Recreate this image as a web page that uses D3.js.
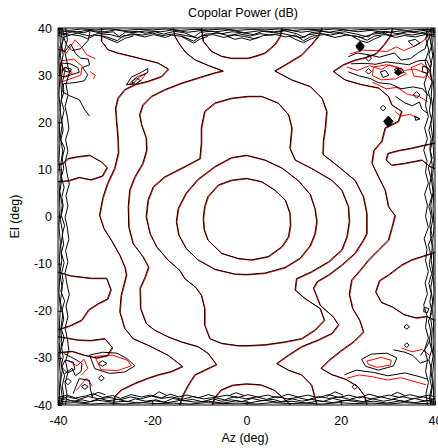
<!DOCTYPE html>
<html><head><meta charset="utf-8">
<script src="https://cdn.jsdelivr.net/npm/d3@7"></script>
<style>
body{margin:0;background:#fff}
text{font-family:"Liberation Sans",Arial,sans-serif;fill:#000}
</style></head>
<body><svg id="chart" width="438" height="448"></svg>
<script>
const title = "Copolar Power (dB)";
const xLabel = "Az (deg)";
const yLabel = "El (deg)";
const xTicks = [-40, -20, 0, 20, 40];
const yTicks = [-40, -30, -20, -10, 0, 10, 20, 30, 40];

// contour lines, each point = [az, el] in degrees
const c1 = [[-9.2,-0.5],[-8.9,2.1],[-8.2,4.2],[-6.0,6.7],[-3.2,7.7],[0,8.1],[3.2,7.4],[6.0,5.6],[8.2,3.5],[9.2,0.7],[9.3,-1.8],[8.9,-4.3],[7.5,-6.4],[4.6,-8.5],[1.1,-9.2],[-1.8,-8.9],[-5.3,-7.8],[-8.2,-5.0],[-9.0,-2.8]];
const c2 = [[0,13],[3.9,12],[7.5,10.3],[11,7.6],[13.5,4.7],[14.5,1.7],[14.9,-1.1],[14.5,-3.7],[13.5,-6.2],[11.4,-8.8],[8.2,-10.8],[3.9,-12],[0,-12.3],[-2.5,-12.2],[-6.7,-11.2],[-10.3,-9.2],[-12.8,-6.8],[-14.4,-3.9],[-14.9,-1.1],[-14.5,1.7],[-12.8,5],[-10.3,7.9],[-6.7,10.6],[-3.2,12.5]];
const c3 = [[0.3,25.5],[3.2,25.5],[6.7,24.1],[8.9,21.6],[9.6,18.8],[9.2,14.5],[10.3,12],[13.8,10.2],[18.1,7.7],[20.2,5.6],[21.6,2.1],[21.8,-1.1],[21.3,-4.3],[20.2,-7.1],[17.4,-9.6],[13.8,-11.7],[10.6,-13.2],[10.3,-15.6],[12.4,-17.4],[15.6,-19.5],[16.5,-22],[14.5,-24.1],[11.7,-25.9],[8.2,-26.6],[4,-27.2],[0.3,-27.4],[-1.8,-27.4],[-5.3,-26.9],[-7.8,-25.9],[-8.9,-23],[-8.9,-19.5],[-9.6,-16.7],[-10.8,-15],[-13.1,-13.2],[-14.2,-11.4],[-16.7,-9.2],[-19.1,-6.4],[-20.5,-3.6],[-21.3,0],[-20.9,3.5],[-19.8,6.3],[-17.4,8.4],[-13.1,10.6],[-9.9,12.3],[-9.6,15.5],[-9.6,18.8],[-8.9,22.3],[-6.7,24.1],[-3.2,25.1]];
const c4Left = [[-15.6,40],[-15.2,38.2],[-14.2,36.5],[-12.8,34.7],[-11,33.3],[-8.2,32.1],[-5,30.9],[-6.7,30.5],[-10.3,29.4],[-13.8,28.3],[-17.4,26.9],[-20.2,25.5],[-22,23.7],[-22.7,21.6],[-22.3,19.5],[-21.3,16.7],[-21.2,14.1],[-22,11.3],[-23.7,8.4],[-24.8,5.6],[-25.1,2.1],[-25,-2.2],[-24.1,-5.7],[-22,-8.5],[-20.8,-10.7],[-21.5,-12.8],[-22.6,-15.2],[-22.5,-19.5],[-21.3,-22.7],[-19.5,-24.1],[-16.7,-25.5],[-13.8,-26.6],[-10.3,-27.6],[-8.2,-29],[-6.4,-31.4],[-8.9,-32.6],[-11,-33.6],[-12.4,-35.8],[-13.5,-37.9],[-14.2,-40]];
const c4Right = [[16,40],[15.2,38.2],[13.8,36.5],[11.7,34.3],[8.9,32.6],[6,30.9],[9.6,29],[13.5,27.6],[16,25.1],[17,22.3],[16.7,18.8],[16.3,16],[16.2,13.2],[19.5,10.6],[23,7.7],[24.8,4.2],[25.5,0.7],[25.5,-3.6],[24.8,-5],[23,-7.8],[20.2,-10.3],[17.4,-12.4],[15,-13.8],[14.2,-15.2],[15.6,-18.8],[18.4,-21.3],[19.5,-23],[18.1,-24.8],[15.2,-26.2],[11.7,-27.6],[8.9,-29.4],[6.4,-31.2],[8.9,-32.6],[11.7,-33.6],[13.8,-35.8],[14.9,-40]];
const capTop = [[-9.6,40],[-9.2,37.2],[-7.5,35.1],[-5.3,34],[-3.2,33.6],[0.3,33.6],[1.8,34],[3.9,34.7],[6,36.5],[7.1,38.2],[7.5,40]];
const capBottom = [[-7.3,-40],[-6.8,-38.5],[-5.4,-36.8],[-3,-35.8],[0,-35.5],[3,-35.7],[5.8,-36.8],[7.8,-38.5],[9.3,-40]];
const c5Left = [[-30.8,40],[-30.8,37.2],[-29.4,35.4],[-27.3,34.7],[-24.4,34],[-21.6,33.3],[-18.8,32.6],[-16.6,31.3],[-18.1,29.7],[-20.9,28.7],[-23.7,28],[-25.9,26.9],[-27.3,25.1],[-27.8,23],[-27.6,20.2],[-27.3,16.7],[-27.2,13.5],[-28,10.2],[-29.5,7],[-30.5,4],[-31.2,0.3],[-30.3,-2.5],[-28.6,-5.2],[-26.9,-8.2],[-25.8,-10.8],[-25.5,-12.4],[-26.6,-16.7],[-26.9,-20.2],[-25.9,-23.7],[-24.1,-25.9],[-20.9,-27.3],[-16.7,-29.4],[-13.6,-31.8],[-16,-32.9],[-18.8,-33.6],[-20.9,-34.3],[-23.7,-35.4],[-26.6,-36.8],[-28,-38.2],[-28.3,-40]];
const c5Right = [[31,40],[30.5,38.3],[29.2,36.5],[27.5,34.6],[25.5,33.8],[23,33.2],[20.5,32.2],[18.4,30.8],[20.9,29],[24.4,28],[28,27.3],[30.1,25.5],[30.8,23.7],[32.9,22.3],[32.2,20.2],[29.4,18.8],[28.7,16],[27,14],[26.6,11.3],[28,8.4],[29.4,5.6],[30.1,2.1],[31.5,0.2],[30.8,-2.5],[30.1,-5],[28,-7.1],[25.9,-9.2],[24.1,-11.4],[22.3,-13.5],[21.8,-16.5],[22.5,-19.5],[24,-22],[24.8,-24.5],[22.8,-26.5],[20,-28.5],[17.5,-30.5],[15.8,-32.2],[18,-33.5],[21,-34.5],[23.5,-36],[25,-38],[25.5,-40]];
const c6LeftTop = [[-40,11],[-38.9,11.3],[-37.9,12.3],[-35.8,12.7],[-33.3,13],[-30.8,11.6],[-29.6,10.4],[-30.6,8.6],[-33,7.8],[-35.5,8.3],[-37.8,7.6],[-40,7.4]];
const c6LeftBottom = [[-40,-11.8],[-37.2,-12.6],[-32.9,-13.1],[-29.7,-13.1],[-28.8,-15.5],[-29.5,-17.5],[-31.5,-18.5],[-33.5,-19.8],[-35,-22],[-37.5,-23.2],[-40,-24]];
const c6RightTop = [[40,10.2],[38.9,10.6],[37.2,12],[33.6,11.3],[30.8,10.9],[29.6,12],[30,13.4],[32.2,14],[35,14.5],[37.5,15.1],[40,15.6]];
const c6RightBottom = [[40,-7.6],[39.3,-7.8],[37.2,-8.5],[35,-9.2],[32.9,-10.3],[30.1,-12.4],[28.2,-13.6],[27.4,-16],[28.6,-18.2],[31,-19.2],[33.4,-20.8],[36,-21.5],[38.2,-21.2],[40,-22]];
const c6BottomLeftEdge = [[-40,-25.5],[-38,-25.8],[-35.8,-26.2],[-33,-26.3],[-30.1,-25.9],[-28.5,-27.8],[-29.5,-29.5],[-31.8,-30],[-34.5,-29.4],[-37,-28.6],[-40,-28.9]];

// small closed contours of the noisy corners
const loopsBlack = [
  [[-25.5,27.9],[-24.4,29.6],[-22.3,30.6],[-21,31.4],[-20.9,30.6],[-22.6,29.7],[-24.1,28.2]],
  [[-24.4,28.6],[-23.3,29.4],[-22.5,28.8],[-23.6,28]],
  [[-39.5,32.6],[-37.4,32.4],[-35.8,31.6],[-35.5,30.6],[-36.8,30.2],[-38.5,29.6],[-39.5,29.8]],
  [[-38.6,31.6],[-37.2,31.3],[-37.4,30.6],[-38.5,30.8]],
  [[24.1,36.6],[24.9,35.8],[24.1,35],[23.3,35.8]],
  [[30.1,20.6],[30.9,19.8],[30.1,19],[29.3,19.8]],
  [[25.9,34.3],[26.5,33.6],[25.9,32.9],[25.3,33.6]],
  [[25.9,31.4],[26.5,30.8],[25.9,30.2],[25.3,30.8]],
  [[28.4,30.7],[29.5,31],[30.2,30],[29,29.5]],
  [[31.4,31.3],[32.9,31.5],[33.4,30.6],[32,30.1]],
  [[36.1,26.5],[36.8,25.8],[36.1,25.1],[35.4,25.8]],
  [[29,23.6],[29.6,23],[29,22.4],[28.4,23]],
  [[37.4,31.9],[38.6,31.5],[38.4,30.4],[37.3,30.7]],
  [[34.3,37.2],[35.8,37.6],[36.8,36.8],[35.5,36.1]],
  [[35.7,21.3],[36.8,20.7],[35.9,20.4]],
  [[-33.3,-29.4],[-30.5,-28.8],[-27.5,-29],[-25.3,-30.2],[-23.7,-31.7],[-25.8,-33],[-29,-33.3],[-32.2,-32.3]],
  [[-30.6,-30.6],[-29.6,-31.2],[-30.6,-31.8],[-31.4,-31.2]],
  [[-37.9,-34.4],[-37.2,-35],[-37.9,-35.7],[-38.6,-35]],
  [[-30.8,-33.7],[-30.2,-34.3],[-30.8,-34.9],[-31.4,-34.3]],
  [[-34.3,-35.6],[-33.6,-36.1],[-34.3,-36.7],[-35,-36.1]],
  [[-38.5,-30.5],[-36.8,-30.9],[-36.4,-32.4],[-38,-33.2],[-39.2,-32]],
  [[24.4,-30.3],[26.5,-29.2],[29.8,-29],[31.9,-30],[31.2,-31.7],[28,-32.6],[25.3,-31.8]],
  [[23,-35.6],[23.6,-36.1],[23,-36.7],[22.4,-36.1]],
  [[34,-26.8],[34.5,-27.3],[34,-27.8],[33.5,-27.3]],
  [[34,-22.9],[34.6,-23.4],[34,-23.9],[33.4,-23.4]],
  [[37.7,-19.3],[38.7,-19.5],[38.4,-20.4],[37.6,-20.2]]
];
const loopsRed = [
  [[-25,28.2],[-23.4,29.8],[-21.5,30.4],[-22.3,29.2],[-23.9,28.1]],
  [[-39.5,33.1],[-36.8,33.5],[-35,32],[-35.3,30.1],[-37.8,29.2],[-39.5,28.6]],
  [[26.8,31.8],[29.5,32.3],[32,31.8],[33.8,30.4],[31.5,29.3],[28.5,29.1],[26.6,30]],
  [[34.8,31.7],[37,32.6],[38.8,31.2],[37.6,29.6],[35.4,29.9]],
  [[-32.3,-29.6],[-28.6,-29.3],[-25.4,-30.4],[-24.6,-31.6],[-27.5,-32.6],[-31,-32.4]],
  [[25.4,-30.6],[28.4,-29.8],[30.6,-30.4],[30.4,-31.4],[27.6,-31.9],[25.8,-31.3]]
];
const filledDiamonds = [[[24.1,37.2],[25,36.2],[24.1,35.1],[23.2,36.2]],[[30.1,21.3],[31.1,20.2],[30.1,19.1],[29.1,20.2]],[[32.2,31.3],[33,30.6],[32.2,29.9],[31.4,30.6]]];

// jagged lines in the noisy corners
const noiseBlack = [
  [[-40,35.5],[-38.6,35],[-37.3,36.6],[-36.2,34.5],[-35.2,33.6],[-33.6,33.4],[-33.3,32.2],[-34.8,31.6],[-33.7,30.1],[-34.4,28.8],[-36.4,28.4],[-38.8,28.2],[-39,26.4],[-37.5,25.6],[-35.5,24.8],[-34.3,22.6],[-33.3,21.3]],
  [[-38.8,38],[-38.1,36.3],[-37,35.2],[-35.2,35.6],[-33.6,37.4],[-33.2,39.2]],
  [[21.6,33.9],[23.5,34.7],[26,34.3],[28.2,33.8],[31.4,34.7],[32.8,33.2],[34.8,33.5],[36.5,34.8],[37.9,35.6],[38.6,37.7],[38.2,39.2]],
  [[22.2,32.4],[25.2,32.5],[27.4,32.3],[29.6,32.8],[32.3,32.5],[34.4,32.2],[36.3,33],[38.2,33.2],[39,31.5]],
  [[21.6,30.7],[24,29.8],[26.2,29.3],[28,28.4],[30.6,28.1],[32.8,27.1],[35.3,27.5],[37.4,27.1],[38.6,25.6]],
  [[31.6,25.5],[33.6,24.1],[35.2,23.5],[36.7,24.3],[37.2,22.8],[38.4,21.9]],
  [[-38.6,-33.4],[-37,-32.2],[-36.3,-33.8],[-35.1,-32.9],[-34.9,-31.2],[-36.5,-30.2],[-38.7,-29.1]],
  [[-36.8,-37.6],[-35.5,-34.4],[-33.3,-34.8],[-33.1,-36.8],[-32.6,-38.4]],
  [[20.8,-33.6],[23.3,-32.6],[27,-33.1],[30,-33.8],[33.6,-33.2],[36.4,-33.9],[38.4,-34.5]],
  [[31.2,-28.3],[33.6,-28.8],[35.3,-29.5],[36.9,-31.1],[38.6,-30.5]],
  [[36.9,-29.5],[38.2,-27.7],[38.9,-26.3]]
];
const noiseRed = [
  [[-40,36.2],[-38.3,34.8],[-36.5,37.6],[-35.4,36.4],[-34,34.4],[-32.2,33.6]],
  [[-40,30.6],[-38.5,31.8],[-37.1,30.6],[-39,29.7]],
  [[-33.3,30.8],[-32.2,30.1],[-32.6,29.3]],
  [[21.8,34.6],[24.5,35.4],[27.4,35.3],[29.6,35.1],[31.7,36.1],[33.2,35.3],[35.6,36.3],[37.6,37.5],[38.7,39.5]],
  [[21.2,31.8],[23.4,31.1],[26,32.1],[28.5,31.3],[30.2,32.3],[33.4,31.1],[35.6,31.4],[38,30.5],[39.2,28.8]],
  [[26.6,28.6],[29.5,27.2],[31.8,27.5],[34.1,26],[36.5,25.6],[38.3,24.5]],
  [[31.3,22.5],[32.6,21.4],[34.5,21.8],[36.7,20.8]],
  [[-38,-30.4],[-36.1,-31.6],[-34.6,-30.2],[-33.8,-32.1],[-35.2,-33.6]],
  [[-36.2,-36.8],[-34.1,-34.2],[-32.8,-35.9]],
  [[21.2,-34.2],[23.8,-33.5],[26.6,-33.9],[29.8,-34.6],[32.6,-34.1],[35.4,-34.9],[38,-35.6]],
  [[32.8,-27.8],[35,-28.6],[37.2,-28.1],[38.8,-29.4]]
];

// dense jagged contours along the plot borders
const edgeTop = [
  [[-40,39.7],[-37.5,39.5],[-35,39.8],[-32,39.6],[-29,39.8],[-26,39.5],[-23,39.7],[-20,39.6],[-17,39.8],[-14,39.5],[-11,39.7],[-8,39.6],[-5,39.8],[-2,39.5],[1,39.7],[4,39.6],[7,39.8],[10,39.5],[13,39.7],[16,39.6],[19,39.8],[22,39.5],[25,39.7],[28,39.6],[31,39.8],[34,39.5],[37,39.7],[40,39.6]],
  [[-40,39.4],[-36.3,39.1],[-33.8,39.5],[-30.2,39.2],[-27.7,39.6],[-24.1,39.0],[-21.3,39.4],[-18.2,39.2],[-15.6,39.6],[-12.4,39.1],[-9.3,39.5],[-6.6,39.2],[-3.5,39.6],[-0.4,39.0],[2.7,39.4],[5.9,39.2],[8.7,39.6],[11.6,39.1],[14.8,39.5],[17.5,39.1],[20.6,39.6],[23.7,39.2],[26.4,39.5],[29.5,39.0],[32.8,39.4],[35.6,39.2],[38.5,39.6],[40,39.3]],
  [[-40,39.1],[-38.2,38.8],[-36.9,39.3],[-34.6,39.0],[-33.1,39.4],[-30.8,38.9],[-28.3,39.2],[-27,38.2],[-25.7,39.1],[-23.2,39.3],[-21.5,38.9],[-19.4,39.2],[-17.6,38.7],[-15.3,39.3],[-13.2,39.0],[-11.1,38.1],[-9.8,39.1],[-7.4,39.3],[-5.2,38.8],[-3.1,39.2],[-0.8,39.0],[1.5,38.6],[3.4,39.3],[5.8,39.0],[8.1,39.4],[10.6,38.8],[12.2,38.0],[13.7,39.0],[16.2,39.3],[18.5,38.9],[20.9,39.2],[23.4,38.7],[25.8,38.1],[27.1,39.0],[29.6,39.3],[31.9,38.8],[34.2,39.2],[36.7,38.9],[38.6,39.3],[40,39.0]],
  [[-40,38.8],[-37.6,38.5],[-35.8,38.9],[-33.3,38.3],[-31.5,38.8],[-28.9,38.6],[-26.6,38.0],[-24.4,38.8],[-22.1,38.5],[-19.9,38.9],[-17.8,38.4],[-15.1,38.8],[-12.9,38.4],[-10.4,37.9],[-8.6,38.7],[-6.1,38.9],[-3.9,38.4],[-1.6,38.8],[0.8,38.3],[2.9,38.8],[5.1,38.5],[7.3,38.9],[9.6,38.4],[11.7,37.9],[13.2,38.6],[15.4,38.9],[17.8,38.5],[19.8,38.9],[22.3,38.4],[24.6,38.0],[26.7,38.7],[28.8,38.9],[30.9,38.4],[33.1,38.8],[35.2,38.5],[37.4,38.9],[39.3,38.6],[40,38.7]],
  [[-40,38.5],[-38.9,38.0],[-37.2,38.6],[-35.1,38.3],[-33.7,37.7],[-32.2,38.5],[-29.9,38.2],[-27.4,37.3],[-26.1,38.4],[-23.8,38.6],[-21.6,38.1],[-19.7,38.6],[-17.2,38.0],[-15.9,38.5],[-13.5,38.2],[-11.2,37.2],[-9.6,38.3],[-7.1,38.6],[-4.8,38.0],[-2.6,38.5],[-0.4,38.2],[1.8,37.7],[3.6,38.4],[6.2,38.6],[8.3,38.1],[10.4,38.5],[12.1,37.3],[13.9,38.3],[16.5,38.6],[18.8,38.0],[21.2,38.5],[23.6,38.2],[25.6,37.4],[27.2,38.3],[29.4,38.6],[31.6,38.0],[33.5,38.4],[35.8,38.1],[37.9,38.6],[40,38.2]],
  [[-31,38.4],[-29.2,37.6],[-27.4,36.9],[-25.8,37.8],[-24,38.3]],
  [[-14,38.3],[-12.5,37.5],[-11.2,36.8],[-9.8,37.7],[-8.2,38.2]],
  [[9,38.3],[10.8,37.4],[12.1,36.9],[13.5,37.6],[15,38.2]],
  [[22.5,38.2],[24.2,37.3],[25.6,36.9],[27,37.6],[28.6,38.3]],
  [[-4,38.2],[-2.5,37.6],[-1,37.9],[0.8,37.4],[2.6,38.1]]
];
const edgeBottom = [
  [[-40,-39.7],[-36.5,-39.5],[-33,-39.8],[-29.5,-39.6],[-26,-39.8],[-22.5,-39.5],[-19,-39.7],[-15.5,-39.6],[-12,-39.8],[-8.5,-39.5],[-5,-39.7],[-1.5,-39.6],[2,-39.8],[5.5,-39.5],[9,-39.7],[12.5,-39.6],[16,-39.8],[19.5,-39.5],[23,-39.7],[26.5,-39.6],[30,-39.8],[33.5,-39.5],[37,-39.7],[40,-39.6]],
  [[-40,-39.4],[-37.1,-39.1],[-34.3,-39.5],[-31.6,-39.0],[-28.2,-39.4],[-25.5,-39.2],[-22.8,-39.6],[-19.6,-39.1],[-16.7,-39.5],[-13.9,-39.0],[-10.8,-39.4],[-8.1,-39.2],[-5.0,-39.6],[-2.2,-39.1],[0.9,-39.5],[3.8,-39.0],[6.6,-39.4],[9.5,-39.2],[12.7,-39.6],[15.4,-39.1],[18.3,-39.5],[21.2,-39.0],[24.1,-39.4],[27.0,-39.2],[29.8,-39.6],[32.7,-39.1],[35.6,-39.5],[38.4,-39.1],[40,-39.4]],
  [[-40,-39.1],[-38.4,-38.7],[-36.8,-39.2],[-34.9,-38.9],[-33.2,-39.3],[-31.1,-38.6],[-29.4,-39.1],[-27.2,-38.8],[-25.3,-39.3],[-23.6,-38.7],[-21.4,-39.2],[-19.2,-38.9],[-17.5,-39.4],[-15.6,-38.6],[-13.3,-39.1],[-11.5,-38.8],[-9.4,-39.3],[-7.1,-38.7],[-5.3,-39.2],[-3.2,-38.9],[-1.1,-39.3],[1.2,-38.6],[3.3,-39.1],[5.6,-38.8],[7.4,-39.3],[9.7,-38.7],[11.8,-39.2],[13.9,-38.8],[16.1,-39.3],[18.3,-38.6],[20.4,-39.1],[22.6,-38.9],[24.7,-39.3],[26.8,-38.7],[29.1,-39.2],[31.3,-38.8],[33.4,-39.3],[35.6,-38.6],[37.7,-39.1],[40,-38.9]],
  [[-40,-38.7],[-37.8,-38.3],[-35.5,-38.8],[-33.6,-38.2],[-31.4,-38.7],[-29.0,-38.4],[-26.9,-38.9],[-24.6,-38.3],[-22.5,-38.7],[-20.2,-38.1],[-18.0,-38.6],[-15.8,-38.3],[-13.6,-38.8],[-11.3,-38.2],[-9.1,-38.7],[-6.8,-38.4],[-4.7,-38.9],[-2.4,-38.2],[-0.2,-38.7],[2.1,-38.3],[4.3,-38.8],[6.4,-38.2],[8.7,-38.7],[10.9,-38.4],[13.0,-38.9],[15.3,-38.2],[17.5,-38.6],[19.8,-38.3],[21.9,-38.8],[24.2,-38.2],[26.4,-38.7],[28.6,-38.3],[30.8,-38.8],[33.0,-38.2],[35.2,-38.7],[37.5,-38.3],[39.4,-38.8],[40,-38.6]],
  [[-40,-38.4],[-38.1,-37.9],[-36.3,-38.5],[-34.2,-38.1],[-32.5,-37.6],[-30.6,-38.4],[-28.4,-38.0],[-26.7,-38.6],[-24.5,-37.8],[-22.3,-38.3],[-20.4,-37.9],[-18.1,-38.5],[-16.2,-37.7],[-14.4,-38.3],[-12.6,-37.9],[-10.3,-38.5],[-8.1,-37.8],[-6.2,-38.3],[-4.1,-37.9],[-2,-38.5],[0.3,-37.8],[2.4,-38.3],[4.5,-37.9],[6.6,-38.5],[8.8,-37.7],[10.9,-38.3],[13.1,-37.9],[15.2,-38.5],[17.4,-37.8],[19.6,-38.4],[21.7,-37.9],[23.9,-38.5],[26,-37.7],[28.2,-38.3],[30.3,-37.9],[32.5,-38.4],[34.6,-37.8],[36.8,-38.3],[38.7,-37.9],[40,-38.3]],
  [[-33,-38.1],[-31.5,-37.3],[-30,-37.8]],
  [[-20,-38.2],[-18.6,-37.2],[-17,-37.9]],
  [[-4,-38.1],[-2.2,-37.4],[-0.5,-38]],
  [[17,-38.2],[18.8,-37.2],[20.5,-37.9]],
  [[30.5,-38.1],[32,-37.3],[33.6,-38.0]]
];
const edgeLeft = [
  [[-39.7,40],[-39.5,36.5],[-39.8,33],[-39.6,29.5],[-39.8,26],[-39.5,22.5],[-39.7,19],[-39.6,15.5],[-39.8,12],[-39.5,8.5],[-39.7,5],[-39.6,1.5],[-39.8,-2],[-39.5,-5.5],[-39.7,-9],[-39.6,-12.5],[-39.8,-16],[-39.5,-19.5],[-39.7,-23],[-39.6,-26.5],[-39.8,-30],[-39.5,-33.5],[-39.7,-37],[-39.6,-40]],
  [[-39.4,40],[-39.1,37.2],[-39.5,34.1],[-39.0,31.3],[-39.4,28.6],[-39.2,25.4],[-39.6,22.7],[-39.1,19.6],[-39.5,16.8],[-39.0,13.9],[-39.4,11.1],[-39.2,8.0],[-39.6,5.3],[-39.1,2.4],[-39.5,-0.6],[-39.0,-3.5],[-39.4,-6.3],[-39.2,-9.4],[-39.6,-12.1],[-39.1,-15.2],[-39.5,-18.0],[-39.0,-20.9],[-39.4,-23.8],[-39.2,-26.7],[-39.6,-29.5],[-39.1,-32.6],[-39.5,-35.4],[-39.1,-38.3],[-39.4,-40]],
  [[-39.1,40],[-38.7,38.2],[-39.2,36.4],[-38.9,34.3],[-39.3,32.5],[-38.6,30.6],[-39.1,28.4],[-38.8,26.3],[-39.3,24.6],[-38.7,22.5],[-39.2,20.3],[-38.9,18.4],[-39.4,16.2],[-38.6,14.5],[-39.1,12.3],[-38.8,10.2],[-39.3,8.4],[-38.7,6.2],[-39.2,4.1],[-38.9,2.3],[-39.3,0.2],[-38.6,-1.9],[-39.1,-3.8],[-38.8,-5.9],[-39.3,-7.7],[-38.7,-9.8],[-39.2,-11.9],[-38.9,-13.7],[-39.4,-15.8],[-38.6,-17.9],[-39.1,-19.7],[-38.8,-21.8],[-39.3,-23.9],[-38.7,-25.7],[-39.2,-27.8],[-38.9,-29.9],[-39.3,-31.7],[-38.6,-33.8],[-39.1,-35.9],[-38.8,-37.8],[-39.1,-40]],
  [[-38.4,40],[-38.0,37.5],[-38.6,35.2],[-38.1,32.8],[-37.6,30.5],[-38.3,28.1],[-37.9,25.7],[-38.5,23.4],[-38.0,21.1],[-37.7,18.6],[-38.4,16.3],[-37.9,13.9],[-38.5,11.6],[-38.1,9.2],[-37.6,6.9],[-38.3,4.5],[-37.9,2.2],[-38.5,-0.2],[-38.0,-2.5],[-37.7,-4.9],[-38.4,-7.2],[-37.9,-9.6],[-38.5,-11.9],[-38.1,-14.3],[-37.6,-16.6],[-38.3,-19],[-37.9,-21.3],[-38.5,-23.7],[-38.0,-26],[-37.7,-28.4],[-38.4,-30.7],[-37.9,-33.1],[-38.5,-35.4],[-38.1,-37.8],[-38.4,-40]]
];
const edgeRight = [
  [[39.7,40],[39.5,36.5],[39.8,33],[39.6,29.5],[39.8,26],[39.5,22.5],[39.7,19],[39.6,15.5],[39.8,12],[39.5,8.5],[39.7,5],[39.6,1.5],[39.8,-2],[39.5,-5.5],[39.7,-9],[39.6,-12.5],[39.8,-16],[39.5,-19.5],[39.7,-23],[39.6,-26.5],[39.8,-30],[39.5,-33.5],[39.7,-37],[39.6,-40]],
  [[39.4,40],[39.1,36.9],[39.5,34.2],[39.0,31.2],[39.4,28.4],[39.2,25.5],[39.6,22.6],[39.1,19.7],[39.5,16.7],[39.0,13.8],[39.4,11.0],[39.2,8.1],[39.6,5.2],[39.1,2.3],[39.5,-0.7],[39.0,-3.6],[39.4,-6.4],[39.2,-9.3],[39.6,-12.2],[39.1,-15.1],[39.5,-18.1],[39.0,-21.0],[39.4,-23.9],[39.2,-26.8],[39.6,-29.6],[39.1,-32.5],[39.5,-35.5],[39.1,-38.4],[39.4,-40]],
  [[39.1,40],[38.8,38.1],[39.3,36.3],[38.7,34.4],[39.2,32.4],[38.9,30.5],[39.4,28.5],[38.6,26.4],[39.1,24.5],[38.8,22.4],[39.3,20.5],[38.7,18.3],[39.2,16.4],[38.9,14.3],[39.4,12.4],[38.6,10.3],[39.1,8.2],[38.8,6.3],[39.3,4.2],[38.7,2.1],[39.2,0.1],[38.9,-2.0],[39.4,-4.1],[38.6,-6.0],[39.1,-8.1],[38.8,-10.2],[39.3,-12.1],[38.7,-14.2],[39.2,-16.3],[38.9,-18.2],[39.4,-20.3],[38.6,-22.2],[39.1,-24.3],[38.8,-26.4],[39.3,-28.3],[38.7,-30.4],[39.2,-32.3],[38.9,-34.4],[39.3,-36.3],[38.8,-38.2],[39.1,-40]],
  [[38.4,40],[38.1,37.6],[38.7,35.3],[37.9,32.9],[38.5,30.6],[37.7,28.2],[38.3,25.8],[38.0,23.5],[38.6,21.2],[37.8,18.8],[38.4,16.5],[37.6,14.1],[38.3,11.8],[38.0,9.4],[38.6,7.1],[37.8,4.7],[38.4,2.4],[38.0,0.0],[38.6,-2.3],[37.7,-4.7],[38.3,-7.0],[38.0,-9.4],[38.6,-11.7],[37.9,-14.1],[38.4,-16.4],[37.6,-18.8],[38.3,-21.1],[38.0,-23.5],[38.6,-25.8],[37.8,-28.2],[38.4,-30.5],[38.0,-32.9],[38.6,-35.2],[38.1,-37.6],[38.4,-40]]
];

const mainOpen = [c4Left, c4Right, capTop, capBottom, c5Left, c5Right, c6LeftTop, c6LeftBottom, c6RightTop, c6RightBottom, c6BottomLeftEdge];
const mainClosed = [c1, c2, c3];

const svg = d3.select("#chart");
const L = 58, R = 435, T = 28, B = 405;
const x = d3.scaleLinear().domain([-40, 40]).range([L, R]);
const y = d3.scaleLinear().domain([-40, 40]).range([B, T]);
const lineOpen = d3.line().x(d => x(d[0])).y(d => y(d[1]));
const lineClosed = d3.line().x(d => x(d[0])).y(d => y(d[1])).curve(d3.curveLinearClosed);

svg.append("defs").append("clipPath").attr("id", "clip")
  .append("rect").attr("x", L).attr("y", T).attr("width", R - L).attr("height", B - T);
const plot = svg.append("g").attr("clip-path", "url(#clip)");

const redG = plot.append("g").attr("transform", "translate(0.6,0.5)")
  .attr("fill", "none").attr("stroke", "#ff0000").attr("stroke-width", 1);
const blackG = plot.append("g").attr("fill", "none").attr("stroke", "#000").attr("stroke-width", 1);

redG.selectAll("path.o").data(mainOpen).join("path").attr("class", "o").attr("d", lineOpen);
redG.selectAll("path.c").data(mainClosed).join("path").attr("class", "c").attr("d", lineClosed);
redG.selectAll("path.lr").data(loopsRed).join("path").attr("class", "lr").attr("d", lineClosed);
redG.selectAll("path.nr").data(noiseRed).join("path").attr("class", "nr").attr("d", lineOpen);

blackG.selectAll("path.o").data(mainOpen).join("path").attr("class", "o").attr("d", lineOpen);
blackG.selectAll("path.c").data(mainClosed).join("path").attr("class", "c").attr("d", lineClosed);
blackG.selectAll("path.lb").data(loopsBlack).join("path").attr("class", "lb").attr("d", lineClosed);
blackG.selectAll("path.nb").data(noiseBlack).join("path").attr("class", "nb").attr("d", lineOpen);
blackG.selectAll("path.fd").data(filledDiamonds).join("path").attr("class", "fd").attr("d", lineClosed).attr("fill", "#000");
blackG.selectAll("path.e").data([...edgeTop, ...edgeBottom, ...edgeLeft, ...edgeRight]).join("path")
  .attr("class", "e").attr("d", lineOpen).attr("stroke-width", 1);

// frame
svg.append("rect").attr("x", L).attr("y", T).attr("width", R - L).attr("height", B - T)
  .attr("fill", "none").attr("stroke", "#000").attr("stroke-width", 1);

// axes
const xAxis = svg.append("g").attr("transform", `translate(0,${B})`)
  .call(d3.axisBottom(x).tickValues(xTicks).tickSizeInner(-4).tickSizeOuter(0).tickPadding(11).tickFormat(d3.format("d")));
const yAxis = svg.append("g").attr("transform", `translate(${L},0)`)
  .call(d3.axisLeft(y).tickValues(yTicks).tickSizeInner(-4).tickSizeOuter(0).tickPadding(6).tickFormat(d3.format("d")));
[xAxis, yAxis].forEach(a => {
  a.select(".domain").remove();
  a.selectAll("text").attr("font-family", '"Liberation Sans", Arial, sans-serif').attr("font-size", 12.5).attr("fill", "#000");
  a.selectAll("line").attr("stroke", "#000");
});
xAxis.selectAll("text").text(d => d < 0 ? "-" + Math.abs(d) : d);
yAxis.selectAll("text").text(d => d < 0 ? "-" + Math.abs(d) : d);

svg.append("text").attr("x", 243).attr("y", 17).attr("text-anchor", "middle").attr("font-size", 12.5).text(title);
svg.append("text").attr("x", 245).attr("y", 442).attr("text-anchor", "middle").attr("font-size", 12.5).text(xLabel);
svg.append("text").attr("transform", `translate(19,${(T + B) / 2}) rotate(-90)`).attr("text-anchor", "middle").attr("font-size", 12.5).text(yLabel);
</script></body></html>
